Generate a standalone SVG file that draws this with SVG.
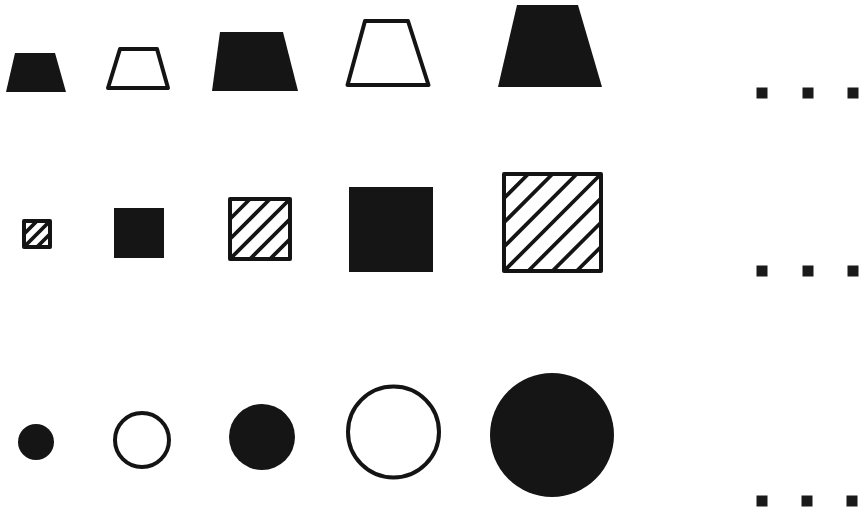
<svg xmlns="http://www.w3.org/2000/svg" width="865" height="513" viewBox="0 0 865 513">
<style>
.solid{fill:#151515;stroke:none}
.open{fill:#ffffff;stroke:#141414;stroke-width:4;stroke-linejoin:round}
.hatch{stroke:#141414;stroke-width:3.8;stroke-linecap:butt}
.dot{fill:#1a1a1a}
</style>
<rect width="865" height="513" fill="#ffffff"/>
<g id="trapezoids">
<g id="trap1"><polygon class="solid" points="15,53 55,53 66,92 6,92"/></g>
<g id="trap2"><polygon class="open" points="120,49 157,49 168,88 108,88"/></g>
<g id="trap3"><polygon class="solid" points="220,32 283,32 298,91 212,91"/></g>
<g id="trap4"><polygon class="open" points="365,21 408,21 428.5,85 347.5,85"/></g>
<g id="trap5"><polygon class="solid" points="517,5 578,5 602,87 498,87"/></g>
</g>
<g id="squares">
<g id="sq1">
<rect class="open" x="24" y="221" width="26" height="26"/>
<path class="hatch" d="M24,234L37,221M24,247L50,221M37,247L50,234"/>
</g>
<g id="sq2"><rect class="solid" x="114" y="208" width="50" height="50"/></g>
<g id="sq3">
<rect class="open" x="230" y="199" width="60" height="60"/>
<path class="hatch" d="M230,219L250,199M230,239L270,199M230,259L290,199M250,259L290,219M270,259L290,239"/>
</g>
<g id="sq4"><rect class="solid" x="349" y="187" width="84" height="85"/></g>
<g id="sq5">
<rect class="open" x="504" y="174" width="97" height="97"/>
<path class="hatch" d="M504,198.25L528.25,174M504,222.5L552.5,174M504,246.75L576.75,174M504,271L601,174M528.25,271L601,198.25M552.5,271L601,222.5M576.75,271L601,246.75"/>
</g>
</g>
<g id="circles">
<g id="c1"><circle class="solid" cx="36" cy="442" r="18"/></g>
<g id="c2"><circle class="open" cx="142" cy="440" r="27"/></g>
<g id="c3"><circle class="solid" cx="262" cy="437" r="33"/></g>
<g id="c4"><circle class="open" cx="393.5" cy="432" r="45.5"/></g>
<g id="c5"><circle class="solid" cx="552" cy="435" r="62"/></g>
</g>
<g id="ellipsis1">
<rect class="dot" x="756.5" y="87.5" width="11" height="11"/>
<rect class="dot" x="802.5" y="87.5" width="11" height="11"/>
<rect class="dot" x="847.5" y="87.5" width="11" height="11"/>
</g>
<g id="ellipsis2">
<rect class="dot" x="756.5" y="265.5" width="11" height="11"/>
<rect class="dot" x="802.5" y="265.5" width="11" height="11"/>
<rect class="dot" x="847.5" y="265.5" width="11" height="11"/>
</g>
<g id="ellipsis3">
<rect class="dot" x="756.5" y="495.5" width="11" height="11"/>
<rect class="dot" x="801.5" y="495.5" width="11" height="11"/>
<rect class="dot" x="846.5" y="495.5" width="11" height="11"/>
</g>
</svg>
